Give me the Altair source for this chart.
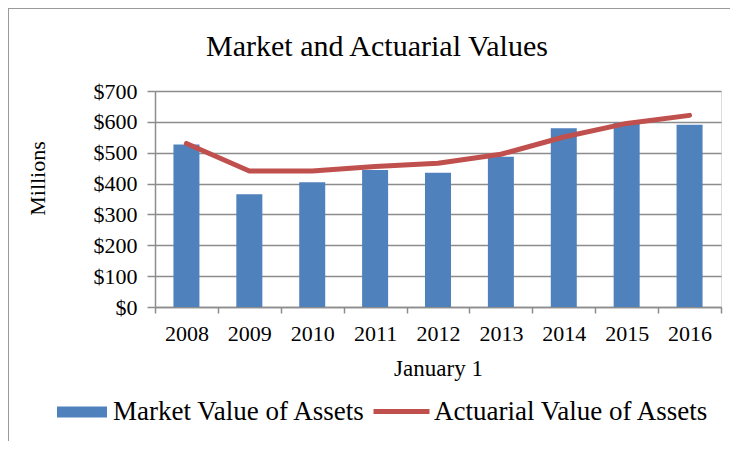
import altair as alt
import pandas as pd

years = ["2008", "2009", "2010", "2011", "2012", "2013", "2014", "2015", "2016"]
market_value = [527, 365, 404, 444, 435, 487, 579, 597, 591]
actuarial_value = [530, 441, 441, 455, 466, 495, 551, 595, 621]
y_ticks = [0, 100, 200, 300, 400, 500, 600, 700]
market_label = "Market Value of Assets"
actuarial_label = "Actuarial Value of Assets"

FONT = "Liberation Serif"
BLUE = "#4F81BD"
RED = "#C0504D"
GRID = "#8C8C8C"

df = pd.DataFrame({"year": years, "market": market_value, "actuarial": actuarial_value})
df["mseries"] = market_label
df["aseries"] = actuarial_label

x_axis = alt.Axis(
    labelAngle=0, tickBand="extent", tickSize=6, labelPadding=10,
    labelFont=FONT, labelFontSize=22, labelColor="black",
    titleFont=FONT, titleFontSize=23, titleFontWeight="normal", titleColor="black",
    titleBaseline="alphabetic", titleY=68,
    domainColor=GRID, domainWidth=1.5, tickColor=GRID, tickWidth=1.5, grid=False,
)
y_axis = alt.Axis(
    values=y_ticks, labelExpr="'$' + datum.value", tickSize=8, labelPadding=10,
    labelFont=FONT, labelFontSize=22, labelColor="black",
    titleFont=FONT, titleFontSize=22, titleFontWeight="normal", titleColor="black",
    titleBaseline="alphabetic", titleX=-111, titleY=87, titleAlign="center",
    domainColor=GRID, domainWidth=1.5, tickColor=GRID, tickWidth=1.5,
    grid=True, gridColor=GRID, gridWidth=1.5,
)

x_enc = alt.X("year:N", title="January 1", sort=years,
              scale=alt.Scale(paddingInner=0, paddingOuter=0), axis=x_axis)
y_scale = alt.Scale(domain=[0, 700])

bars = alt.Chart(df).mark_bar(size=26).encode(
    x=x_enc,
    y=alt.Y("market:Q", title="Millions", scale=y_scale, axis=y_axis),
    color=alt.Color(
        "mseries:N",
        scale=alt.Scale(domain=[market_label], range=[BLUE]),
        legend=alt.Legend(
            title=None, orient="none", legendX=-98, legendY=296,
            symbolType="M-1,-0.22H1V0.22H-1Z", symbolSize=2500, symbolStrokeWidth=0,
            symbolOpacity=1, labelFont=FONT, labelFontSize=27, labelColor="black",
            labelOffset=6, padding=0, labelLimit=500,
        ),
    ),
)

line = alt.Chart(df).mark_line(strokeWidth=5, strokeCap="round", strokeJoin="round").encode(
    x=x_enc,
    y=alt.Y("actuarial:Q", title="Millions", scale=y_scale, axis=y_axis),
    stroke=alt.Stroke(
        "aseries:N",
        scale=alt.Scale(domain=[actuarial_label], range=[RED]),
        legend=alt.Legend(
            title=None, orient="none", legendX=216, legendY=290,
            symbolType="stroke", symbolSize=3136, symbolStrokeWidth=5,
            labelFont=FONT, labelFontSize=27, labelColor="black",
            labelOffset=2, padding=0, labelLimit=500,
        ),
    ),
)

# chart frame (decoration): thin gray border along the left and top edges
frame = alt.Chart(df).mark_rect(fill="transparent", stroke="#9A9A9A", strokeWidth=1).encode(
    x=alt.value(-146.5), x2=alt.value(900), y=alt.value(-82.5), y2=alt.value(700)
)

chart = alt.layer(frame, bars, line).properties(
    width=566, height=216,
    autosize=alt.AutoSizeParams(type="none"),
    padding={"left": 147, "top": 83, "right": 9, "bottom": 134},
    title=alt.TitleParams(
        "Market and Actuarial Values", font=FONT, fontSize=30, fontWeight="normal",
        color="black", anchor="middle", frame="group", dx=-61, baseline="alphabetic", offset=-78,
    ),
).configure_view(stroke=None).configure(background="white")

chart.save("out.html", embed_options={"renderer": "svg", "actions": False})
